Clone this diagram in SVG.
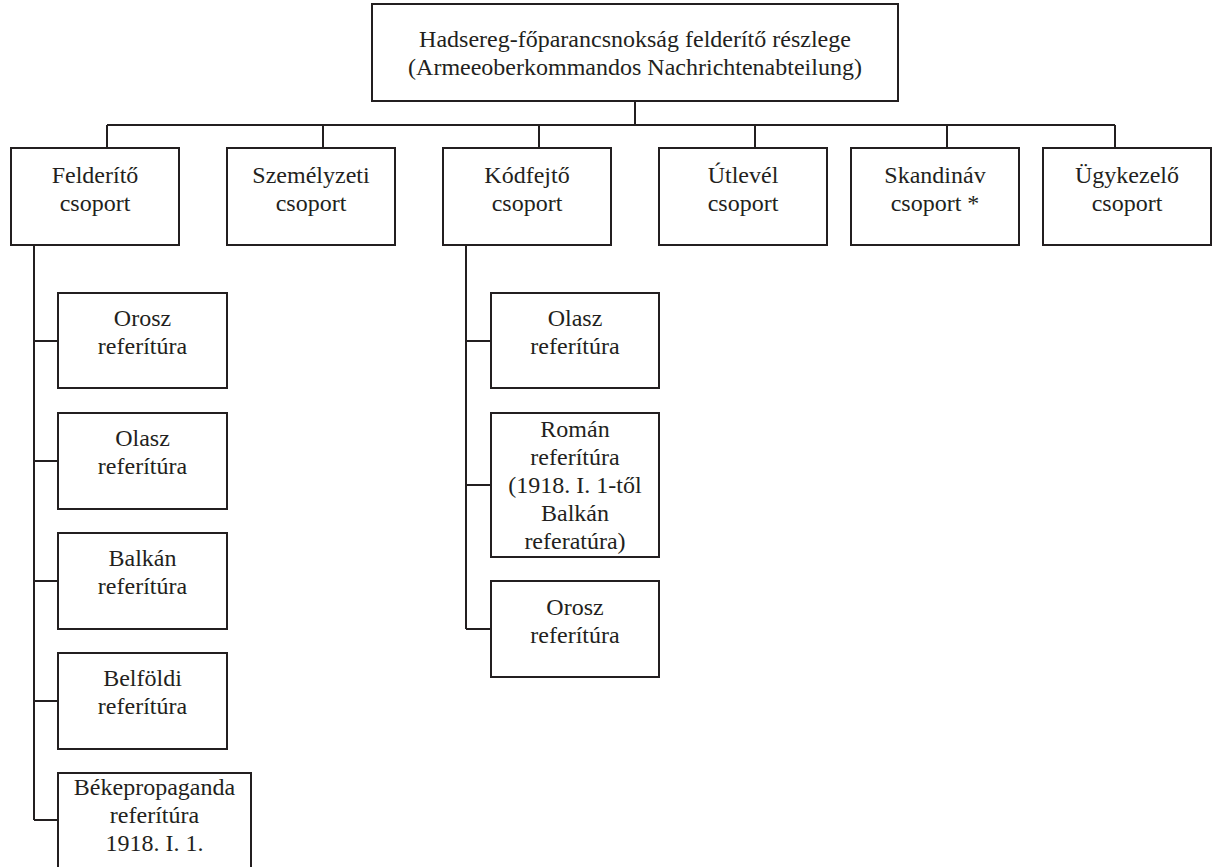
<svg xmlns="http://www.w3.org/2000/svg" width="1212" height="867" viewBox="0 0 1212 867">
<style>
.box{fill:#fff;stroke:#231f20;stroke-width:2}
.con{fill:none;stroke:#231f20;stroke-width:2}
text{font-family:"Liberation Serif","Times New Roman",serif;font-size:24px;fill:#231f20;text-anchor:middle}
</style>
<rect width="1212" height="867" fill="#fff"/>
<g id="connectors">
<path class="con" d="M635 101V125M107 125H1115M107 125V148M323 125V148M539 125V148M755 125V148M947 125V148M1115 125V148"/>
<path class="con" d="M34 245V820M34 341H58M34 461H58M34 581H58M34 701H58M34 820H58"/>
<path class="con" d="M466 245V629M466 341H491M466 485H491M466 629H491"/>
</g>
<g id="root"><rect class="box" x="372" y="4" width="526" height="97"/><text x="635" y="47">Hadsereg-főparancsnokság felderítő részlege</text><text x="635" y="75">(Armeeoberkommandos Nachrichtenabteilung)</text></g>
<g id="felderito"><rect class="box" x="11" y="148" width="168" height="97"/><text x="95" y="183">Felderítő</text><text x="95" y="211">csoport</text></g>
<g id="szemelyzeti"><rect class="box" x="227" y="148" width="168" height="97"/><text x="311" y="183">Személyzeti</text><text x="311" y="211">csoport</text></g>
<g id="kodfejto"><rect class="box" x="443" y="148" width="168" height="97"/><text x="527" y="183">Kódfejtő</text><text x="527" y="211">csoport</text></g>
<g id="utlevel"><rect class="box" x="659" y="148" width="168" height="97"/><text x="743" y="183">Útlevél</text><text x="743" y="211">csoport</text></g>
<g id="skandinav"><rect class="box" x="851" y="148" width="168" height="97"/><text x="935" y="183">Skandináv</text><text x="935" y="211">csoport *</text></g>
<g id="ugykezelo"><rect class="box" x="1043" y="148" width="168" height="97"/><text x="1127" y="183">Ügykezelő</text><text x="1127" y="211">csoport</text></g>
<g id="f-orosz"><rect class="box" x="58" y="293" width="169" height="95"/><text x="142.5" y="326">Orosz</text><text x="142.5" y="354">referítúra</text></g>
<g id="f-olasz"><rect class="box" x="58" y="413" width="169" height="96"/><text x="142.5" y="446">Olasz</text><text x="142.5" y="474">referítúra</text></g>
<g id="f-balkan"><rect class="box" x="58" y="533" width="169" height="96"/><text x="142.5" y="566">Balkán</text><text x="142.5" y="594">referítúra</text></g>
<g id="f-belfoldi"><rect class="box" x="58" y="653" width="169" height="96"/><text x="142.5" y="686">Belföldi</text><text x="142.5" y="714">referítúra</text></g>
<g id="f-beke"><rect class="box" x="58" y="773" width="193" height="100"/><text x="154.5" y="795">Békepropaganda</text><text x="154.5" y="823">referítúra</text><text x="154.5" y="851">1918. I. 1.</text></g>
<g id="k-olasz"><rect class="box" x="491" y="293" width="168" height="95"/><text x="575" y="326">Olasz</text><text x="575" y="354">referítúra</text></g>
<g id="k-roman"><rect class="box" x="491" y="413" width="168" height="144"/><text x="575" y="437">Román</text><text x="575" y="465">referítúra</text><text x="575" y="493">(1918. I. 1-től</text><text x="575" y="521">Balkán</text><text x="575" y="549">referatúra)</text></g>
<g id="k-orosz"><rect class="box" x="491" y="581" width="168" height="96"/><text x="575" y="615">Orosz</text><text x="575" y="643">referítúra</text></g>
</svg>
